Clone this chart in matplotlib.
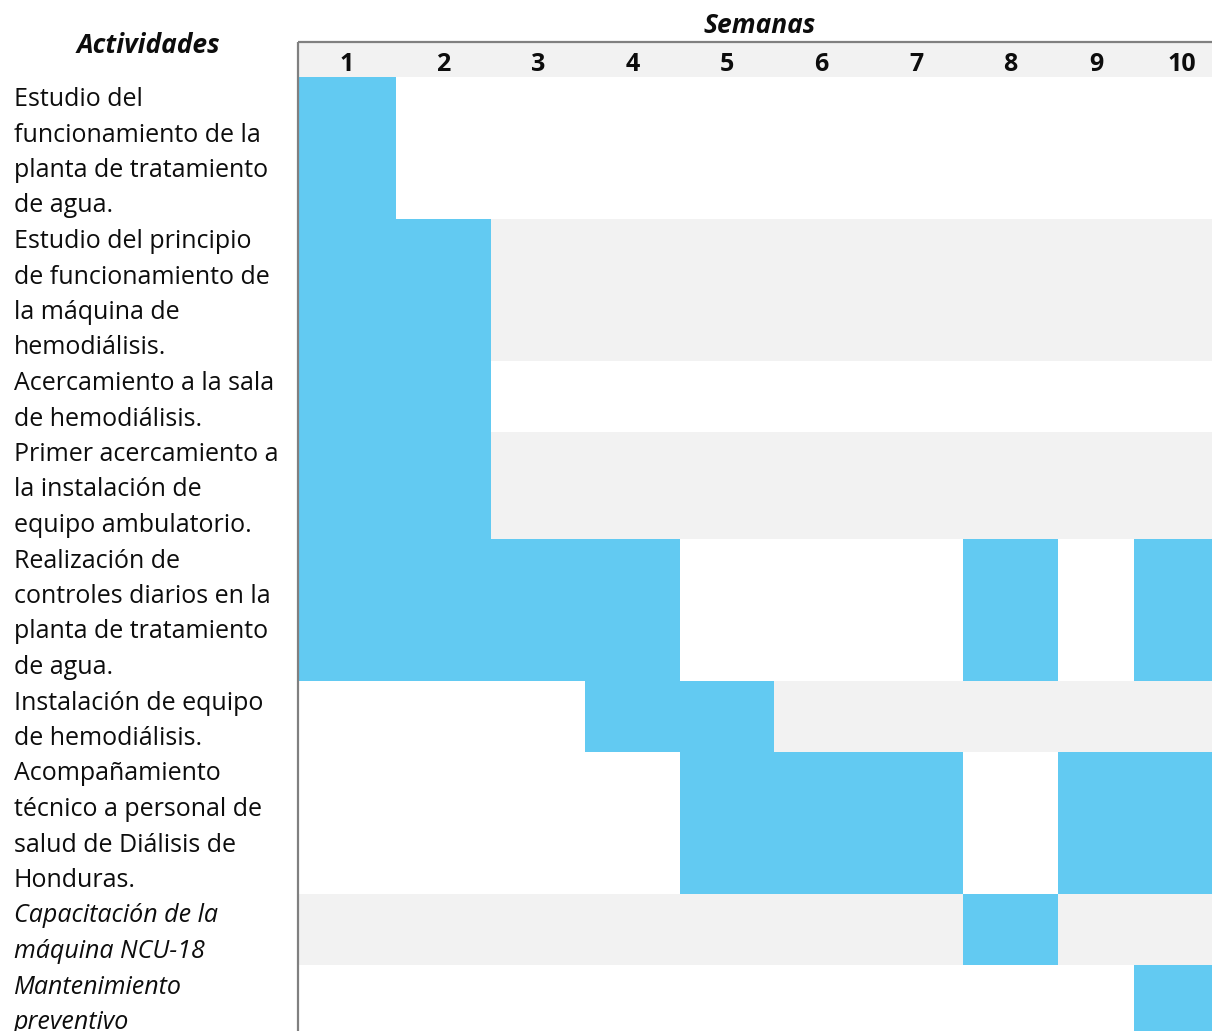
import matplotlib.pyplot as plt

plt.rcParams['font.family'] = ['Open Sans', 'DejaVu Sans']

# activities, one list of text lines each (as wrapped in the original)
activities = [
    ["Estudio del", "funcionamiento de la", "planta de tratamiento", "de agua."],
    ["Estudio del principio", "de funcionamiento de", "la máquina de", "hemodiálisis."],
    ["Acercamiento a la sala", "de hemodiálisis."],
    ["Primer acercamiento a", "la instalación de", "equipo ambulatorio."],
    ["Realización de", "controles diarios en la", "planta de tratamiento", "de agua."],
    ["Instalación de equipo", "de hemodiálisis."],
    ["Acompañamiento", "técnico a personal de", "salud de Diálisis de", "Honduras."],
    ["Capacitación de la", "máquina NCU-18"],
    ["Mantenimiento", "preventivo"],
]
italic_rows = [7, 8]
weeks = [1, 2, 3, 4, 5, 6, 7, 8, 9, 10]
# weeks in which each activity is active
active_weeks = [
    [1],
    [1, 2],
    [1, 2],
    [1, 2],
    [1, 2, 3, 4, 8, 10],
    [4, 5],
    [5, 6, 7, 9, 10],
    [8],
    [10],
]
# shaded (grey) weeks of the banded rows
shaded_weeks = {
    1: [3, 4, 5, 6, 7, 8, 9, 10],
    3: [3, 4, 5, 6, 7, 8, 9, 10],
    5: [6, 7, 8, 9, 10],
    7: [1, 2, 3, 4, 5, 6, 7, 9, 10],
}

blue = "#62caf2"
grey = "#f2f2f2"
line_h = 35.5
header_top, header_bot = 42, 77
col_edges = [298, 396, 491, 585, 680, 774, 869, 963, 1058, 1134, 1229]

fig = plt.figure(figsize=(12.12, 10.31), dpi=100)
ax = fig.add_axes([0, 0, 1, 1])
ax.set_xlim(0, 1212)
ax.set_ylim(1031, 0)
ax.set_axis_off()

# header band and week numbers
ax.broken_barh([(col_edges[0], col_edges[-1] - col_edges[0])],
               (header_top, header_bot - header_top), color=grey, lw=0)
for i, w in enumerate(weeks):
    cx = (col_edges[i] + col_edges[i + 1]) / 2
    ax.text(cx, 71, str(w), ha='center', va='baseline', fontsize=18,
            fontweight='bold', color='#0d0d0d')

ax.text(760, 33, "Semanas", ha='center', va='baseline', fontsize=19,
        fontweight='bold', fontstyle='italic', color='#0d0d0d')
ax.text(148, 53, "Actividades", ha='center', va='baseline', fontsize=19,
        fontweight='bold', fontstyle='italic', color='#0d0d0d')

top = header_bot
for r, lines in enumerate(activities):
    h = len(lines) * line_h
    if r in shaded_weeks:
        spans = [(col_edges[w - 1], col_edges[w] - col_edges[w - 1]) for w in shaded_weeks[r]]
        ax.broken_barh(spans, (top, h), color=grey, lw=0)
    spans = [(col_edges[w - 1], col_edges[w] - col_edges[w - 1]) for w in active_weeks[r]]
    ax.broken_barh(spans, (top, h), color=blue, lw=0)
    for j, ln in enumerate(lines):
        ax.text(14, top + 29 + j * line_h, ln, ha='left', va='baseline',
                fontsize=18, color='#0d0d0d',
                fontstyle='italic' if r in italic_rows else 'normal')
    top += h

ax.plot([col_edges[0], 1212], [41.5, 41.5], color='#808080', lw=1.6,
        solid_capstyle='butt')
ax.plot([col_edges[0], col_edges[0]], [41.5, 1031], color='#808080', lw=1.6,
        solid_capstyle='butt')

fig.savefig("out.png", dpi=100)
